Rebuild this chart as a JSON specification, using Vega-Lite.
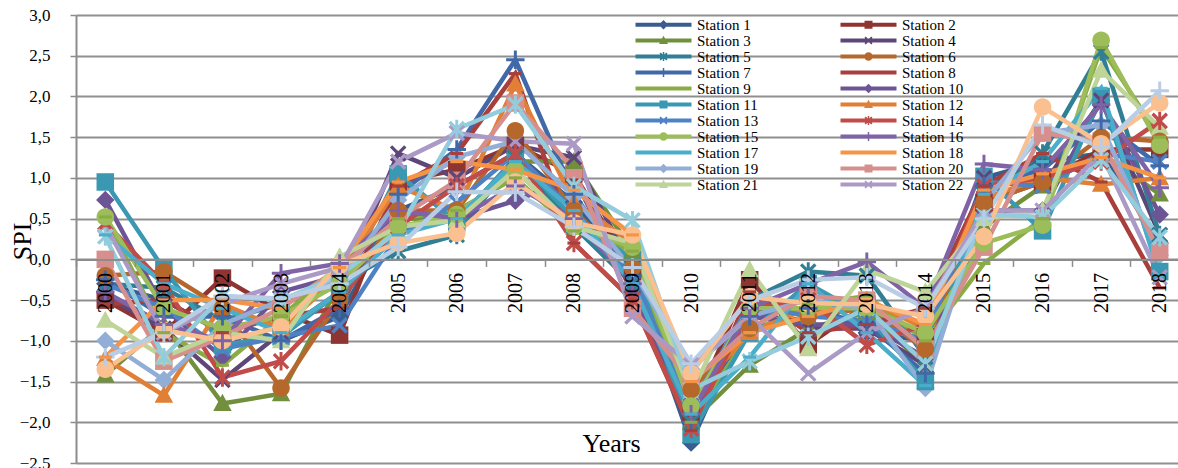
{
"$schema": "https://vega.github.io/schema/vega-lite/v6.json",
"width": 1102, "height": 448,
"autosize": {"type": "none"},
"padding": {"left": 76, "top": 15, "right": 0, "bottom": 5},
"background": "white",
"config": {"view": {"stroke": null}, "font": "Liberation Serif"},
"datasets": {"spi": [
{"station":"Station 1","year":"2000","spi":-0.30},{"station":"Station 1","year":"2001","spi":-0.50},{"station":"Station 1","year":"2002","spi":-0.90},{"station":"Station 1","year":"2003","spi":-1.00},{"station":"Station 1","year":"2004","spi":-0.70},{"station":"Station 1","year":"2005","spi":0.60},{"station":"Station 1","year":"2006","spi":0.90},{"station":"Station 1","year":"2007","spi":1.30},{"station":"Station 1","year":"2008","spi":0.70},{"station":"Station 1","year":"2009","spi":-0.20},{"station":"Station 1","year":"2010","spi":-2.25},{"station":"Station 1","year":"2011","spi":-0.65},{"station":"Station 1","year":"2012","spi":-0.50},{"station":"Station 1","year":"2013","spi":-0.90},{"station":"Station 1","year":"2014","spi":-1.00},{"station":"Station 1","year":"2015","spi":1.00},{"station":"Station 1","year":"2016","spi":1.20},{"station":"Station 1","year":"2017","spi":1.30},{"station":"Station 1","year":"2018","spi":0.20},
{"station":"Station 2","year":"2000","spi":-0.50},{"station":"Station 2","year":"2001","spi":-0.90},{"station":"Station 2","year":"2002","spi":-0.23},{"station":"Station 2","year":"2003","spi":-0.65},{"station":"Station 2","year":"2004","spi":-0.93},{"station":"Station 2","year":"2005","spi":0.95},{"station":"Station 2","year":"2006","spi":1.10},{"station":"Station 2","year":"2007","spi":1.40},{"station":"Station 2","year":"2008","spi":1.05},{"station":"Station 2","year":"2009","spi":-0.15},{"station":"Station 2","year":"2010","spi":-1.90},{"station":"Station 2","year":"2011","spi":-0.25},{"station":"Station 2","year":"2012","spi":-1.05},{"station":"Station 2","year":"2013","spi":-0.55},{"station":"Station 2","year":"2014","spi":-0.95},{"station":"Station 2","year":"2015","spi":0.70},{"station":"Station 2","year":"2016","spi":0.95},{"station":"Station 2","year":"2017","spi":1.35},{"station":"Station 2","year":"2018","spi":1.35},
{"station":"Station 3","year":"2000","spi":-1.42},{"station":"Station 3","year":"2001","spi":-0.80},{"station":"Station 3","year":"2002","spi":-1.77},{"station":"Station 3","year":"2003","spi":-1.65},{"station":"Station 3","year":"2004","spi":-0.30},{"station":"Station 3","year":"2005","spi":0.50},{"station":"Station 3","year":"2006","spi":0.50},{"station":"Station 3","year":"2007","spi":1.20},{"station":"Station 3","year":"2008","spi":1.20},{"station":"Station 3","year":"2009","spi":0.10},{"station":"Station 3","year":"2010","spi":-2.00},{"station":"Station 3","year":"2011","spi":-1.30},{"station":"Station 3","year":"2012","spi":-0.85},{"station":"Station 3","year":"2013","spi":-0.65},{"station":"Station 3","year":"2014","spi":-1.30},{"station":"Station 3","year":"2015","spi":0.40},{"station":"Station 3","year":"2016","spi":0.90},{"station":"Station 3","year":"2017","spi":1.30},{"station":"Station 3","year":"2018","spi":0.80},
{"station":"Station 4","year":"2000","spi":-0.45},{"station":"Station 4","year":"2001","spi":-0.85},{"station":"Station 4","year":"2002","spi":-1.48},{"station":"Station 4","year":"2003","spi":-0.90},{"station":"Station 4","year":"2004","spi":-0.40},{"station":"Station 4","year":"2005","spi":1.30},{"station":"Station 4","year":"2006","spi":1.00},{"station":"Station 4","year":"2007","spi":1.40},{"station":"Station 4","year":"2008","spi":1.25},{"station":"Station 4","year":"2009","spi":-0.10},{"station":"Station 4","year":"2010","spi":-1.80},{"station":"Station 4","year":"2011","spi":-0.60},{"station":"Station 4","year":"2012","spi":-0.85},{"station":"Station 4","year":"2013","spi":-0.85},{"station":"Station 4","year":"2014","spi":-1.30},{"station":"Station 4","year":"2015","spi":1.00},{"station":"Station 4","year":"2016","spi":0.90},{"station":"Station 4","year":"2017","spi":1.95},{"station":"Station 4","year":"2018","spi":0.30},
{"station":"Station 5","year":"2000","spi":-0.30},{"station":"Station 5","year":"2001","spi":-0.35},{"station":"Station 5","year":"2002","spi":-0.75},{"station":"Station 5","year":"2003","spi":-0.55},{"station":"Station 5","year":"2004","spi":-0.30},{"station":"Station 5","year":"2005","spi":0.10},{"station":"Station 5","year":"2006","spi":0.30},{"station":"Station 5","year":"2007","spi":1.25},{"station":"Station 5","year":"2008","spi":0.40},{"station":"Station 5","year":"2009","spi":-0.30},{"station":"Station 5","year":"2010","spi":-2.00},{"station":"Station 5","year":"2011","spi":-0.50},{"station":"Station 5","year":"2012","spi":-0.15},{"station":"Station 5","year":"2013","spi":-0.20},{"station":"Station 5","year":"2014","spi":-1.20},{"station":"Station 5","year":"2015","spi":0.80},{"station":"Station 5","year":"2016","spi":1.30},{"station":"Station 5","year":"2017","spi":2.55},{"station":"Station 5","year":"2018","spi":0.30},
{"station":"Station 6","year":"2000","spi":-0.20},{"station":"Station 6","year":"2001","spi":-0.15},{"station":"Station 6","year":"2002","spi":-0.60},{"station":"Station 6","year":"2003","spi":-1.58},{"station":"Station 6","year":"2004","spi":-0.50},{"station":"Station 6","year":"2005","spi":0.60},{"station":"Station 6","year":"2006","spi":0.60},{"station":"Station 6","year":"2007","spi":1.58},{"station":"Station 6","year":"2008","spi":0.60},{"station":"Station 6","year":"2009","spi":-0.10},{"station":"Station 6","year":"2010","spi":-1.60},{"station":"Station 6","year":"2011","spi":-0.85},{"station":"Station 6","year":"2012","spi":-0.70},{"station":"Station 6","year":"2013","spi":-0.60},{"station":"Station 6","year":"2014","spi":-1.10},{"station":"Station 6","year":"2015","spi":0.70},{"station":"Station 6","year":"2016","spi":0.95},{"station":"Station 6","year":"2017","spi":1.50},{"station":"Station 6","year":"2018","spi":1.45},
{"station":"Station 7","year":"2000","spi":-0.25},{"station":"Station 7","year":"2001","spi":-0.70},{"station":"Station 7","year":"2002","spi":-0.70},{"station":"Station 7","year":"2003","spi":-1.00},{"station":"Station 7","year":"2004","spi":-0.60},{"station":"Station 7","year":"2005","spi":0.80},{"station":"Station 7","year":"2006","spi":1.35},{"station":"Station 7","year":"2007","spi":2.45},{"station":"Station 7","year":"2008","spi":0.80},{"station":"Station 7","year":"2009","spi":-0.20},{"station":"Station 7","year":"2010","spi":-2.00},{"station":"Station 7","year":"2011","spi":-0.70},{"station":"Station 7","year":"2012","spi":-0.60},{"station":"Station 7","year":"2013","spi":-0.80},{"station":"Station 7","year":"2014","spi":-1.40},{"station":"Station 7","year":"2015","spi":0.90},{"station":"Station 7","year":"2016","spi":1.10},{"station":"Station 7","year":"2017","spi":1.70},{"station":"Station 7","year":"2018","spi":1.15},
{"station":"Station 8","year":"2000","spi":-0.55},{"station":"Station 8","year":"2001","spi":-0.50},{"station":"Station 8","year":"2002","spi":-0.90},{"station":"Station 8","year":"2003","spi":-0.70},{"station":"Station 8","year":"2004","spi":-0.60},{"station":"Station 8","year":"2005","spi":0.90},{"station":"Station 8","year":"2006","spi":1.30},{"station":"Station 8","year":"2007","spi":2.28},{"station":"Station 8","year":"2008","spi":0.20},{"station":"Station 8","year":"2009","spi":-0.50},{"station":"Station 8","year":"2010","spi":-2.10},{"station":"Station 8","year":"2011","spi":-0.40},{"station":"Station 8","year":"2012","spi":-0.90},{"station":"Station 8","year":"2013","spi":-0.80},{"station":"Station 8","year":"2014","spi":-0.60},{"station":"Station 8","year":"2015","spi":0.90},{"station":"Station 8","year":"2016","spi":1.30},{"station":"Station 8","year":"2017","spi":0.95},{"station":"Station 8","year":"2018","spi":-0.35},
{"station":"Station 9","year":"2000","spi":0.52},{"station":"Station 9","year":"2001","spi":-0.90},{"station":"Station 9","year":"2002","spi":-1.30},{"station":"Station 9","year":"2003","spi":-0.70},{"station":"Station 9","year":"2004","spi":-0.10},{"station":"Station 9","year":"2005","spi":0.50},{"station":"Station 9","year":"2006","spi":0.60},{"station":"Station 9","year":"2007","spi":1.00},{"station":"Station 9","year":"2008","spi":0.35},{"station":"Station 9","year":"2009","spi":0.10},{"station":"Station 9","year":"2010","spi":-2.00},{"station":"Station 9","year":"2011","spi":-0.90},{"station":"Station 9","year":"2012","spi":-0.55},{"station":"Station 9","year":"2013","spi":-0.45},{"station":"Station 9","year":"2014","spi":-1.00},{"station":"Station 9","year":"2015","spi":-0.05},{"station":"Station 9","year":"2016","spi":0.50},{"station":"Station 9","year":"2017","spi":2.60},{"station":"Station 9","year":"2018","spi":1.50},
{"station":"Station 10","year":"2000","spi":0.73},{"station":"Station 10","year":"2001","spi":-0.60},{"station":"Station 10","year":"2002","spi":-1.20},{"station":"Station 10","year":"2003","spi":-0.40},{"station":"Station 10","year":"2004","spi":-0.20},{"station":"Station 10","year":"2005","spi":0.60},{"station":"Station 10","year":"2006","spi":0.50},{"station":"Station 10","year":"2007","spi":0.72},{"station":"Station 10","year":"2008","spi":1.00},{"station":"Station 10","year":"2009","spi":-0.40},{"station":"Station 10","year":"2010","spi":-1.90},{"station":"Station 10","year":"2011","spi":-0.70},{"station":"Station 10","year":"2012","spi":-0.80},{"station":"Station 10","year":"2013","spi":-0.80},{"station":"Station 10","year":"2014","spi":-1.20},{"station":"Station 10","year":"2015","spi":0.60},{"station":"Station 10","year":"2016","spi":0.60},{"station":"Station 10","year":"2017","spi":1.95},{"station":"Station 10","year":"2018","spi":0.55},
{"station":"Station 11","year":"2000","spi":0.95},{"station":"Station 11","year":"2001","spi":-0.12},{"station":"Station 11","year":"2002","spi":-1.05},{"station":"Station 11","year":"2003","spi":-0.95},{"station":"Station 11","year":"2004","spi":-0.40},{"station":"Station 11","year":"2005","spi":1.05},{"station":"Station 11","year":"2006","spi":0.45},{"station":"Station 11","year":"2007","spi":1.25},{"station":"Station 11","year":"2008","spi":0.50},{"station":"Station 11","year":"2009","spi":0.00},{"station":"Station 11","year":"2010","spi":-2.15},{"station":"Station 11","year":"2011","spi":-0.90},{"station":"Station 11","year":"2012","spi":-0.30},{"station":"Station 11","year":"2013","spi":-0.70},{"station":"Station 11","year":"2014","spi":-1.50},{"station":"Station 11","year":"2015","spi":1.02},{"station":"Station 11","year":"2016","spi":0.35},{"station":"Station 11","year":"2017","spi":2.00},{"station":"Station 11","year":"2018","spi":-0.15},
{"station":"Station 12","year":"2000","spi":-1.22},{"station":"Station 12","year":"2001","spi":-1.67},{"station":"Station 12","year":"2002","spi":-0.55},{"station":"Station 12","year":"2003","spi":-0.85},{"station":"Station 12","year":"2004","spi":-0.20},{"station":"Station 12","year":"2005","spi":0.90},{"station":"Station 12","year":"2006","spi":0.60},{"station":"Station 12","year":"2007","spi":2.15},{"station":"Station 12","year":"2008","spi":0.70},{"station":"Station 12","year":"2009","spi":0.20},{"station":"Station 12","year":"2010","spi":-1.70},{"station":"Station 12","year":"2011","spi":-0.90},{"station":"Station 12","year":"2012","spi":-0.60},{"station":"Station 12","year":"2013","spi":-0.50},{"station":"Station 12","year":"2014","spi":-0.85},{"station":"Station 12","year":"2015","spi":0.75},{"station":"Station 12","year":"2016","spi":1.00},{"station":"Station 12","year":"2017","spi":0.92},{"station":"Station 12","year":"2018","spi":1.00},
{"station":"Station 13","year":"2000","spi":-0.30},{"station":"Station 13","year":"2001","spi":-0.60},{"station":"Station 13","year":"2002","spi":-1.10},{"station":"Station 13","year":"2003","spi":-0.95},{"station":"Station 13","year":"2004","spi":-0.81},{"station":"Station 13","year":"2005","spi":0.30},{"station":"Station 13","year":"2006","spi":0.70},{"station":"Station 13","year":"2007","spi":1.30},{"station":"Station 13","year":"2008","spi":0.60},{"station":"Station 13","year":"2009","spi":-0.20},{"station":"Station 13","year":"2010","spi":-1.80},{"station":"Station 13","year":"2011","spi":-0.55},{"station":"Station 13","year":"2012","spi":-0.70},{"station":"Station 13","year":"2013","spi":-0.75},{"station":"Station 13","year":"2014","spi":-1.00},{"station":"Station 13","year":"2015","spi":0.95},{"station":"Station 13","year":"2016","spi":0.90},{"station":"Station 13","year":"2017","spi":1.30},{"station":"Station 13","year":"2018","spi":1.20},
{"station":"Station 14","year":"2000","spi":0.45},{"station":"Station 14","year":"2001","spi":-0.30},{"station":"Station 14","year":"2002","spi":-1.45},{"station":"Station 14","year":"2003","spi":-1.25},{"station":"Station 14","year":"2004","spi":-0.50},{"station":"Station 14","year":"2005","spi":0.40},{"station":"Station 14","year":"2006","spi":0.90},{"station":"Station 14","year":"2007","spi":1.30},{"station":"Station 14","year":"2008","spi":0.20},{"station":"Station 14","year":"2009","spi":-0.50},{"station":"Station 14","year":"2010","spi":-2.08},{"station":"Station 14","year":"2011","spi":-0.60},{"station":"Station 14","year":"2012","spi":-0.50},{"station":"Station 14","year":"2013","spi":-1.05},{"station":"Station 14","year":"2014","spi":-0.80},{"station":"Station 14","year":"2015","spi":0.90},{"station":"Station 14","year":"2016","spi":1.00},{"station":"Station 14","year":"2017","spi":1.20},{"station":"Station 14","year":"2018","spi":1.70},
{"station":"Station 15","year":"2000","spi":0.52},{"station":"Station 15","year":"2001","spi":-0.60},{"station":"Station 15","year":"2002","spi":-0.85},{"station":"Station 15","year":"2003","spi":-0.70},{"station":"Station 15","year":"2004","spi":-0.30},{"station":"Station 15","year":"2005","spi":0.40},{"station":"Station 15","year":"2006","spi":0.55},{"station":"Station 15","year":"2007","spi":1.10},{"station":"Station 15","year":"2008","spi":0.40},{"station":"Station 15","year":"2009","spi":0.15},{"station":"Station 15","year":"2010","spi":-1.80},{"station":"Station 15","year":"2011","spi":-0.60},{"station":"Station 15","year":"2012","spi":-0.60},{"station":"Station 15","year":"2013","spi":-0.60},{"station":"Station 15","year":"2014","spi":-0.90},{"station":"Station 15","year":"2015","spi":0.20},{"station":"Station 15","year":"2016","spi":0.42},{"station":"Station 15","year":"2017","spi":2.69},{"station":"Station 15","year":"2018","spi":1.40},
{"station":"Station 16","year":"2000","spi":-0.40},{"station":"Station 16","year":"2001","spi":-0.80},{"station":"Station 16","year":"2002","spi":-1.00},{"station":"Station 16","year":"2003","spi":-0.17},{"station":"Station 16","year":"2004","spi":-0.05},{"station":"Station 16","year":"2005","spi":0.60},{"station":"Station 16","year":"2006","spi":0.50},{"station":"Station 16","year":"2007","spi":0.90},{"station":"Station 16","year":"2008","spi":0.50},{"station":"Station 16","year":"2009","spi":-0.30},{"station":"Station 16","year":"2010","spi":-1.90},{"station":"Station 16","year":"2011","spi":-0.60},{"station":"Station 16","year":"2012","spi":-0.30},{"station":"Station 16","year":"2013","spi":-0.03},{"station":"Station 16","year":"2014","spi":-0.60},{"station":"Station 16","year":"2015","spi":1.17},{"station":"Station 16","year":"2016","spi":1.10},{"station":"Station 16","year":"2017","spi":1.90},{"station":"Station 16","year":"2018","spi":0.88},
{"station":"Station 17","year":"2000","spi":0.30},{"station":"Station 17","year":"2001","spi":-0.30},{"station":"Station 17","year":"2002","spi":-0.60},{"station":"Station 17","year":"2003","spi":-0.90},{"station":"Station 17","year":"2004","spi":-0.40},{"station":"Station 17","year":"2005","spi":0.30},{"station":"Station 17","year":"2006","spi":0.50},{"station":"Station 17","year":"2007","spi":1.20},{"station":"Station 17","year":"2008","spi":0.60},{"station":"Station 17","year":"2009","spi":-0.30},{"station":"Station 17","year":"2010","spi":-1.90},{"station":"Station 17","year":"2011","spi":-1.20},{"station":"Station 17","year":"2012","spi":-0.30},{"station":"Station 17","year":"2013","spi":-0.90},{"station":"Station 17","year":"2014","spi":-1.55},{"station":"Station 17","year":"2015","spi":0.80},{"station":"Station 17","year":"2016","spi":1.20},{"station":"Station 17","year":"2017","spi":2.10},{"station":"Station 17","year":"2018","spi":-0.20},
{"station":"Station 18","year":"2000","spi":-1.20},{"station":"Station 18","year":"2001","spi":-0.50},{"station":"Station 18","year":"2002","spi":-0.50},{"station":"Station 18","year":"2003","spi":-0.60},{"station":"Station 18","year":"2004","spi":-0.10},{"station":"Station 18","year":"2005","spi":0.95},{"station":"Station 18","year":"2006","spi":1.20},{"station":"Station 18","year":"2007","spi":1.10},{"station":"Station 18","year":"2008","spi":0.85},{"station":"Station 18","year":"2009","spi":0.30},{"station":"Station 18","year":"2010","spi":-1.50},{"station":"Station 18","year":"2011","spi":-0.90},{"station":"Station 18","year":"2012","spi":-0.70},{"station":"Station 18","year":"2013","spi":-0.50},{"station":"Station 18","year":"2014","spi":-0.80},{"station":"Station 18","year":"2015","spi":0.85},{"station":"Station 18","year":"2016","spi":1.05},{"station":"Station 18","year":"2017","spi":1.25},{"station":"Station 18","year":"2018","spi":1.00},
{"station":"Station 19","year":"2000","spi":-1.00},{"station":"Station 19","year":"2001","spi":-1.48},{"station":"Station 19","year":"2002","spi":-0.80},{"station":"Station 19","year":"2003","spi":-0.50},{"station":"Station 19","year":"2004","spi":-0.25},{"station":"Station 19","year":"2005","spi":0.73},{"station":"Station 19","year":"2006","spi":1.26},{"station":"Station 19","year":"2007","spi":1.45},{"station":"Station 19","year":"2008","spi":0.77},{"station":"Station 19","year":"2009","spi":-0.13},{"station":"Station 19","year":"2010","spi":-1.35},{"station":"Station 19","year":"2011","spi":-0.70},{"station":"Station 19","year":"2012","spi":-0.50},{"station":"Station 19","year":"2013","spi":-0.60},{"station":"Station 19","year":"2014","spi":-1.58},{"station":"Station 19","year":"2015","spi":0.70},{"station":"Station 19","year":"2016","spi":1.55},{"station":"Station 19","year":"2017","spi":1.65},{"station":"Station 19","year":"2018","spi":0.05},
{"station":"Station 20","year":"2000","spi":0.00},{"station":"Station 20","year":"2001","spi":-1.25},{"station":"Station 20","year":"2002","spi":-0.95},{"station":"Station 20","year":"2003","spi":-0.60},{"station":"Station 20","year":"2004","spi":-0.10},{"station":"Station 20","year":"2005","spi":0.50},{"station":"Station 20","year":"2006","spi":0.97},{"station":"Station 20","year":"2007","spi":1.92},{"station":"Station 20","year":"2008","spi":1.10},{"station":"Station 20","year":"2009","spi":-0.60},{"station":"Station 20","year":"2010","spi":-1.50},{"station":"Station 20","year":"2011","spi":-0.85},{"station":"Station 20","year":"2012","spi":-0.45},{"station":"Station 20","year":"2013","spi":-0.50},{"station":"Station 20","year":"2014","spi":-1.10},{"station":"Station 20","year":"2015","spi":0.15},{"station":"Station 20","year":"2016","spi":1.55},{"station":"Station 20","year":"2017","spi":1.45},{"station":"Station 20","year":"2018","spi":0.10},
{"station":"Station 21","year":"2000","spi":-0.75},{"station":"Station 21","year":"2001","spi":-1.20},{"station":"Station 21","year":"2002","spi":-0.90},{"station":"Station 21","year":"2003","spi":-1.00},{"station":"Station 21","year":"2004","spi":0.03},{"station":"Station 21","year":"2005","spi":0.40},{"station":"Station 21","year":"2006","spi":0.48},{"station":"Station 21","year":"2007","spi":1.10},{"station":"Station 21","year":"2008","spi":0.40},{"station":"Station 21","year":"2009","spi":0.20},{"station":"Station 21","year":"2010","spi":-1.65},{"station":"Station 21","year":"2011","spi":-0.13},{"station":"Station 21","year":"2012","spi":-1.10},{"station":"Station 21","year":"2013","spi":-0.13},{"station":"Station 21","year":"2014","spi":-0.40},{"station":"Station 21","year":"2015","spi":0.50},{"station":"Station 21","year":"2016","spi":0.60},{"station":"Station 21","year":"2017","spi":2.32},{"station":"Station 21","year":"2018","spi":1.62},
{"station":"Station 22","year":"2000","spi":0.42},{"station":"Station 22","year":"2001","spi":-0.90},{"station":"Station 22","year":"2002","spi":-0.55},{"station":"Station 22","year":"2003","spi":-0.30},{"station":"Station 22","year":"2004","spi":-0.10},{"station":"Station 22","year":"2005","spi":1.20},{"station":"Station 22","year":"2006","spi":1.55},{"station":"Station 22","year":"2007","spi":1.45},{"station":"Station 22","year":"2008","spi":1.42},{"station":"Station 22","year":"2009","spi":-0.70},{"station":"Station 22","year":"2010","spi":-1.30},{"station":"Station 22","year":"2011","spi":-0.70},{"station":"Station 22","year":"2012","spi":-1.40},{"station":"Station 22","year":"2013","spi":-0.90},{"station":"Station 22","year":"2014","spi":-0.60},{"station":"Station 22","year":"2015","spi":0.60},{"station":"Station 22","year":"2016","spi":0.60},{"station":"Station 22","year":"2017","spi":1.30},{"station":"Station 22","year":"2018","spi":-0.22},
{"station":"Station 23","year":"2000","spi":0.28},{"station":"Station 23","year":"2001","spi":-1.20},{"station":"Station 23","year":"2002","spi":-0.45},{"station":"Station 23","year":"2003","spi":-0.50},{"station":"Station 23","year":"2004","spi":-0.20},{"station":"Station 23","year":"2005","spi":0.35},{"station":"Station 23","year":"2006","spi":1.60},{"station":"Station 23","year":"2007","spi":1.90},{"station":"Station 23","year":"2008","spi":0.90},{"station":"Station 23","year":"2009","spi":0.48},{"station":"Station 23","year":"2010","spi":-1.60},{"station":"Station 23","year":"2011","spi":-1.25},{"station":"Station 23","year":"2012","spi":-0.95},{"station":"Station 23","year":"2013","spi":-0.60},{"station":"Station 23","year":"2014","spi":-1.28},{"station":"Station 23","year":"2015","spi":0.55},{"station":"Station 23","year":"2016","spi":0.52},{"station":"Station 23","year":"2017","spi":1.22},{"station":"Station 23","year":"2018","spi":0.27},
{"station":"Station 24","year":"2000","spi":-1.35},{"station":"Station 24","year":"2001","spi":-0.87},{"station":"Station 24","year":"2002","spi":-1.00},{"station":"Station 24","year":"2003","spi":-0.83},{"station":"Station 24","year":"2004","spi":-0.07},{"station":"Station 24","year":"2005","spi":0.20},{"station":"Station 24","year":"2006","spi":0.32},{"station":"Station 24","year":"2007","spi":0.95},{"station":"Station 24","year":"2008","spi":0.45},{"station":"Station 24","year":"2009","spi":0.30},{"station":"Station 24","year":"2010","spi":-1.40},{"station":"Station 24","year":"2011","spi":-0.46},{"station":"Station 24","year":"2012","spi":-0.54},{"station":"Station 24","year":"2013","spi":-0.55},{"station":"Station 24","year":"2014","spi":-0.70},{"station":"Station 24","year":"2015","spi":0.28},{"station":"Station 24","year":"2016","spi":1.87},{"station":"Station 24","year":"2017","spi":1.42},{"station":"Station 24","year":"2018","spi":1.92},
{"station":"Station 25","year":"2000","spi":-1.20},{"station":"Station 25","year":"2001","spi":-0.90},{"station":"Station 25","year":"2002","spi":-0.45},{"station":"Station 25","year":"2003","spi":-0.48},{"station":"Station 25","year":"2004","spi":-0.30},{"station":"Station 25","year":"2005","spi":0.15},{"station":"Station 25","year":"2006","spi":0.83},{"station":"Station 25","year":"2007","spi":0.82},{"station":"Station 25","year":"2008","spi":0.40},{"station":"Station 25","year":"2009","spi":-0.10},{"station":"Station 25","year":"2010","spi":-1.28},{"station":"Station 25","year":"2011","spi":-0.50},{"station":"Station 25","year":"2012","spi":-0.25},{"station":"Station 25","year":"2013","spi":-0.22},{"station":"Station 25","year":"2014","spi":-0.60},{"station":"Station 25","year":"2015","spi":0.50},{"station":"Station 25","year":"2016","spi":1.65},{"station":"Station 25","year":"2017","spi":1.38},{"station":"Station 25","year":"2018","spi":2.07}
]},
"data": {"name": "spi"},
"encoding": {
  "x": {"field": "year", "type": "ordinal", "bandPosition": 0.5,
    "scale": {"type": "band", "paddingInner": 0, "paddingOuter": 0, "range": [0, 1113]},
    "axis": {"offset": -203.6, "zindex": 2, "labelAngle": -90, "labelFont": "Liberation Serif", "labelFontSize": 20, "labelColor": "black", "labelPadding": 6,
      "tickSize": 7, "tickColor": "#8c8c8c", "tickWidth": 1.5, "tickBand": "extent", "domainColor": "#8c8c8c", "domainWidth": 2, "grid": false,
      "title": "Years", "titleFont": "Liberation Serif", "titleFontSize": 26, "titleFontWeight": "normal", "titleColor": "black",
      "titleX": 535, "titleY": 192, "titleAlign": "center", "titleBaseline": "alphabetic"}},
  "y": {"field": "spi", "type": "quantitative", "scale": {"domain": [-2.5, 3], "nice": false, "zero": false},
    "axis": {"values": [-2.5,-2,-1.5,-1,-0.5,0,0.5,1,1.5,2,2.5,3], "labelExpr": "replace(format(datum.value, '.1f'), '.', ',')",
      "labelFont": "Liberation Serif", "labelFontSize": 17, "labelColor": "black", "labelPadding": 20,
      "tickSize": 6, "tickColor": "#8c8c8c", "tickWidth": 1.5, "domainColor": "#8c8c8c", "domainWidth": 2,
      "grid": true, "gridColor": "#8f8f8f", "gridWidth": 1.8,
      "title": "SPI", "titleFont": "Liberation Serif", "titleFontSize": 26, "titleFontWeight": "normal", "titleColor": "black",
      "titleAngle": -90, "titleX": -46, "titleY": 226, "titleAlign": "center", "titleBaseline": "alphabetic"}}
},
"layer": [
  {"mark": {"type": "line", "strokeWidth": 4.5},
   "encoding": {"color": {"field": "station", "type": "nominal",
     "scale": {"domain": ["Station 1","Station 2","Station 3","Station 4","Station 5","Station 6","Station 7","Station 8","Station 9","Station 10","Station 11","Station 12","Station 13","Station 14","Station 15","Station 16","Station 17","Station 18","Station 19","Station 20","Station 21","Station 22","Station 23","Station 24","Station 25"],
       "range": ["#3a5d8f","#8e3532","#718f3c","#5e4678","#317f94","#b6682c","#4169a8","#a83f3c","#8aac46","#6d5495","#3b98b3","#e07f35","#4f82c4","#c04b48","#9cbd59","#7f63a6","#4aaecb","#f59346","#92aed6","#d68f8c","#bed498","#ab9ac6","#93cddd","#fac090","#b9cde5"]},
     "legend": {"orient": "none", "legendX": 558, "legendY": 2, "direction": "horizontal", "columns": 2, "columnPadding": 80, "rowPadding": 0, "padding": 0, "title": null,
       "values": ["Station 1","Station 2","Station 3","Station 4","Station 5","Station 6","Station 7","Station 8","Station 9","Station 10","Station 11","Station 12","Station 13","Station 14","Station 15","Station 16","Station 17","Station 18","Station 19","Station 20","Station 21","Station 22"],
       "symbolType": "M-1.2,-0.4L10,-0.4L10,0.4L-1.2,0.4Z", "symbolSize": 100, "symbolStrokeWidth": 0,
       "labelFont": "Liberation Serif", "labelFontSize": 15, "labelColor": "black", "labelOffset": 48, "labelLimit": 300,
       "encode": {"symbols": {"update": {
         "shape": {"signal": "['M-1.2,-0.4L10,-0.4L10,0.4L-1.2,0.4ZM3.45,0L4.4,-0.95L5.35,0L4.4,0.95Z','M-1.2,-0.4L10,-0.4L10,0.4L-1.2,0.4ZM3.6,-0.8L5.2,-0.8L5.2,0.8L3.6,0.8Z','M-1.2,-0.4L10,-0.4L10,0.4L-1.2,0.4ZM4.4,-0.95L5.3,0.7L3.5,0.7Z','M-1.2,-0.4L10,-0.4L10,0.4L-1.2,0.4ZM3.6,-0.55L3.85,-0.8L4.4,-0.25L4.95,-0.8L5.2,-0.55L4.65,0L5.2,0.55L4.95,0.8L4.4,0.25L3.85,0.8L3.6,0.55L4.15,0Z','M-1.2,-0.4L10,-0.4L10,0.4L-1.2,0.4ZM3.6,-0.55L3.85,-0.8L4.4,-0.25L4.95,-0.8L5.2,-0.55L4.65,0L5.2,0.55L4.95,0.8L4.4,0.25L3.85,0.8L3.6,0.55L4.15,0ZM4.25,-0.9L4.55,-0.9L4.55,0.9L4.25,0.9Z','M-1.2,-0.4L10,-0.4L10,0.4L-1.2,0.4ZM3.55,0A0.85,0.85,0,1,1,5.25,0A0.85,0.85,0,1,1,3.55,0Z','M-1.2,-0.4L10,-0.4L10,0.4L-1.2,0.4ZM3.5,-0.15L4.25,-0.15L4.25,-0.9L4.55,-0.9L4.55,-0.15L5.3,-0.15L5.3,0.15L4.55,0.15L4.55,0.9L4.25,0.9L4.25,0.15L3.5,0.15Z','M-1.2,-0.4L10,-0.4L10,0.4L-1.2,0.4Z','M-1.2,-0.4L10,-0.4L10,0.4L-1.2,0.4Z'][(toNumber(substring(datum.value, 8)) - 1) % 9]"},
         "fill": {"scale": "color", "field": "value"},
         "strokeWidth": {"value": 0},
         "opacity": {"value": 1}}}}}}}},
  {"transform": [{"filter": {"field": "station", "oneOf": ["Station 1","Station 10","Station 19"]}}],
   "mark": {"type": "point", "filled": true, "size": 340, "opacity": 1, "shape": "M-1,0L0,-1L1,0L0,1Z"},
   "encoding": {"fill": {"field": "station", "type": "nominal", "legend": null,
     "scale": {"domain": ["Station 25","Station 24","Station 23","Station 22","Station 21","Station 20","Station 19","Station 18","Station 17","Station 16","Station 15","Station 14","Station 13","Station 12","Station 11","Station 10","Station 9","Station 8","Station 7","Station 6","Station 5","Station 4","Station 3","Station 2","Station 1"],
       "range": ["#b9cde5","#fac090","#93cddd","#ab9ac6","#bed498","#d68f8c","#92aed6","#f59346","#4aaecb","#7f63a6","#9cbd59","#c04b48","#4f82c4","#e07f35","#3b98b3","#6d5495","#8aac46","#a83f3c","#4169a8","#b6682c","#317f94","#5e4678","#718f3c","#8e3532","#3a5d8f"]}}}},
  {"transform": [{"filter": {"field": "station", "oneOf": ["Station 2","Station 11","Station 20"]}}],
   "mark": {"type": "point", "filled": true, "size": 340, "opacity": 1, "shape": "M-0.95,-0.95L0.95,-0.95L0.95,0.95L-0.95,0.95Z"},
   "encoding": {"fill": {"field": "station", "type": "nominal", "legend": null,
     "scale": {"domain": ["Station 25","Station 24","Station 23","Station 22","Station 21","Station 20","Station 19","Station 18","Station 17","Station 16","Station 15","Station 14","Station 13","Station 12","Station 11","Station 10","Station 9","Station 8","Station 7","Station 6","Station 5","Station 4","Station 3","Station 2","Station 1"],
       "range": ["#b9cde5","#fac090","#93cddd","#ab9ac6","#bed498","#d68f8c","#92aed6","#f59346","#4aaecb","#7f63a6","#9cbd59","#c04b48","#4f82c4","#e07f35","#3b98b3","#6d5495","#8aac46","#a83f3c","#4169a8","#b6682c","#317f94","#5e4678","#718f3c","#8e3532","#3a5d8f"]}}}},
  {"transform": [{"filter": {"field": "station", "oneOf": ["Station 3","Station 12","Station 21"]}}],
   "mark": {"type": "point", "filled": true, "size": 340, "opacity": 1, "shape": "M0,-1.05L1,0.8L-1,0.8Z"},
   "encoding": {"fill": {"field": "station", "type": "nominal", "legend": null,
     "scale": {"domain": ["Station 25","Station 24","Station 23","Station 22","Station 21","Station 20","Station 19","Station 18","Station 17","Station 16","Station 15","Station 14","Station 13","Station 12","Station 11","Station 10","Station 9","Station 8","Station 7","Station 6","Station 5","Station 4","Station 3","Station 2","Station 1"],
       "range": ["#b9cde5","#fac090","#93cddd","#ab9ac6","#bed498","#d68f8c","#92aed6","#f59346","#4aaecb","#7f63a6","#9cbd59","#c04b48","#4f82c4","#e07f35","#3b98b3","#6d5495","#8aac46","#a83f3c","#4169a8","#b6682c","#317f94","#5e4678","#718f3c","#8e3532","#3a5d8f"]}}}},
  {"transform": [{"filter": {"field": "station", "oneOf": ["Station 4","Station 13","Station 22"]}}],
   "mark": {"type": "point", "filled": true, "size": 340, "opacity": 1, "shape": "M-0.9,-0.65L-0.65,-0.9L0,-0.25L0.65,-0.9L0.9,-0.65L0.25,0L0.9,0.65L0.65,0.9L0,0.25L-0.65,0.9L-0.9,0.65L-0.25,0Z"},
   "encoding": {"fill": {"field": "station", "type": "nominal", "legend": null,
     "scale": {"domain": ["Station 25","Station 24","Station 23","Station 22","Station 21","Station 20","Station 19","Station 18","Station 17","Station 16","Station 15","Station 14","Station 13","Station 12","Station 11","Station 10","Station 9","Station 8","Station 7","Station 6","Station 5","Station 4","Station 3","Station 2","Station 1"],
       "range": ["#b9cde5","#fac090","#93cddd","#ab9ac6","#bed498","#d68f8c","#92aed6","#f59346","#4aaecb","#7f63a6","#9cbd59","#c04b48","#4f82c4","#e07f35","#3b98b3","#6d5495","#8aac46","#a83f3c","#4169a8","#b6682c","#317f94","#5e4678","#718f3c","#8e3532","#3a5d8f"]}}}},
  {"transform": [{"filter": {"field": "station", "oneOf": ["Station 5","Station 14","Station 23"]}}],
   "mark": {"type": "point", "filled": true, "size": 340, "opacity": 1, "shape": "M-0.9,-0.65L-0.65,-0.9L0,-0.25L0.65,-0.9L0.9,-0.65L0.25,0L0.9,0.65L0.65,0.9L0,0.25L-0.65,0.9L-0.9,0.65L-0.25,0ZM-0.16,-1L0.16,-1L0.16,1L-0.16,1Z"},
   "encoding": {"fill": {"field": "station", "type": "nominal", "legend": null,
     "scale": {"domain": ["Station 25","Station 24","Station 23","Station 22","Station 21","Station 20","Station 19","Station 18","Station 17","Station 16","Station 15","Station 14","Station 13","Station 12","Station 11","Station 10","Station 9","Station 8","Station 7","Station 6","Station 5","Station 4","Station 3","Station 2","Station 1"],
       "range": ["#b9cde5","#fac090","#93cddd","#ab9ac6","#bed498","#d68f8c","#92aed6","#f59346","#4aaecb","#7f63a6","#9cbd59","#c04b48","#4f82c4","#e07f35","#3b98b3","#6d5495","#8aac46","#a83f3c","#4169a8","#b6682c","#317f94","#5e4678","#718f3c","#8e3532","#3a5d8f"]}}}},
  {"transform": [{"filter": {"field": "station", "oneOf": ["Station 6","Station 15","Station 24"]}}],
   "mark": {"type": "point", "filled": true, "size": 340, "opacity": 1, "shape": "M-0.95,0A0.95,0.95,0,1,1,0.95,0A0.95,0.95,0,1,1,-0.95,0Z"},
   "encoding": {"fill": {"field": "station", "type": "nominal", "legend": null,
     "scale": {"domain": ["Station 25","Station 24","Station 23","Station 22","Station 21","Station 20","Station 19","Station 18","Station 17","Station 16","Station 15","Station 14","Station 13","Station 12","Station 11","Station 10","Station 9","Station 8","Station 7","Station 6","Station 5","Station 4","Station 3","Station 2","Station 1"],
       "range": ["#b9cde5","#fac090","#93cddd","#ab9ac6","#bed498","#d68f8c","#92aed6","#f59346","#4aaecb","#7f63a6","#9cbd59","#c04b48","#4f82c4","#e07f35","#3b98b3","#6d5495","#8aac46","#a83f3c","#4169a8","#b6682c","#317f94","#5e4678","#718f3c","#8e3532","#3a5d8f"]}}}},
  {"transform": [{"filter": {"field": "station", "oneOf": ["Station 7","Station 16","Station 25"]}}],
   "mark": {"type": "point", "filled": true, "size": 340, "opacity": 1, "shape": "M-1,-0.16L-0.16,-0.16L-0.16,-1L0.16,-1L0.16,-0.16L1,-0.16L1,0.16L0.16,0.16L0.16,1L-0.16,1L-0.16,0.16L-1,0.16Z"},
   "encoding": {"fill": {"field": "station", "type": "nominal", "legend": null,
     "scale": {"domain": ["Station 25","Station 24","Station 23","Station 22","Station 21","Station 20","Station 19","Station 18","Station 17","Station 16","Station 15","Station 14","Station 13","Station 12","Station 11","Station 10","Station 9","Station 8","Station 7","Station 6","Station 5","Station 4","Station 3","Station 2","Station 1"],
       "range": ["#b9cde5","#fac090","#93cddd","#ab9ac6","#bed498","#d68f8c","#92aed6","#f59346","#4aaecb","#7f63a6","#9cbd59","#c04b48","#4f82c4","#e07f35","#3b98b3","#6d5495","#8aac46","#a83f3c","#4169a8","#b6682c","#317f94","#5e4678","#718f3c","#8e3532","#3a5d8f"]}}}},
  {"transform": [{"filter": {"field": "station", "oneOf": ["Station 8","Station 9","Station 17","Station 18"]}}],
   "mark": {"type": "point", "filled": true, "size": 340, "opacity": 1, "shape": "M-0.7,-0.17L0.7,-0.17L0.7,0.17L-0.7,0.17Z"},
   "encoding": {"fill": {"field": "station", "type": "nominal", "legend": null,
     "scale": {"domain": ["Station 25","Station 24","Station 23","Station 22","Station 21","Station 20","Station 19","Station 18","Station 17","Station 16","Station 15","Station 14","Station 13","Station 12","Station 11","Station 10","Station 9","Station 8","Station 7","Station 6","Station 5","Station 4","Station 3","Station 2","Station 1"],
       "range": ["#b9cde5","#fac090","#93cddd","#ab9ac6","#bed498","#d68f8c","#92aed6","#f59346","#4aaecb","#7f63a6","#9cbd59","#c04b48","#4f82c4","#e07f35","#3b98b3","#6d5495","#8aac46","#a83f3c","#4169a8","#b6682c","#317f94","#5e4678","#718f3c","#8e3532","#3a5d8f"]}}}}
]
}
